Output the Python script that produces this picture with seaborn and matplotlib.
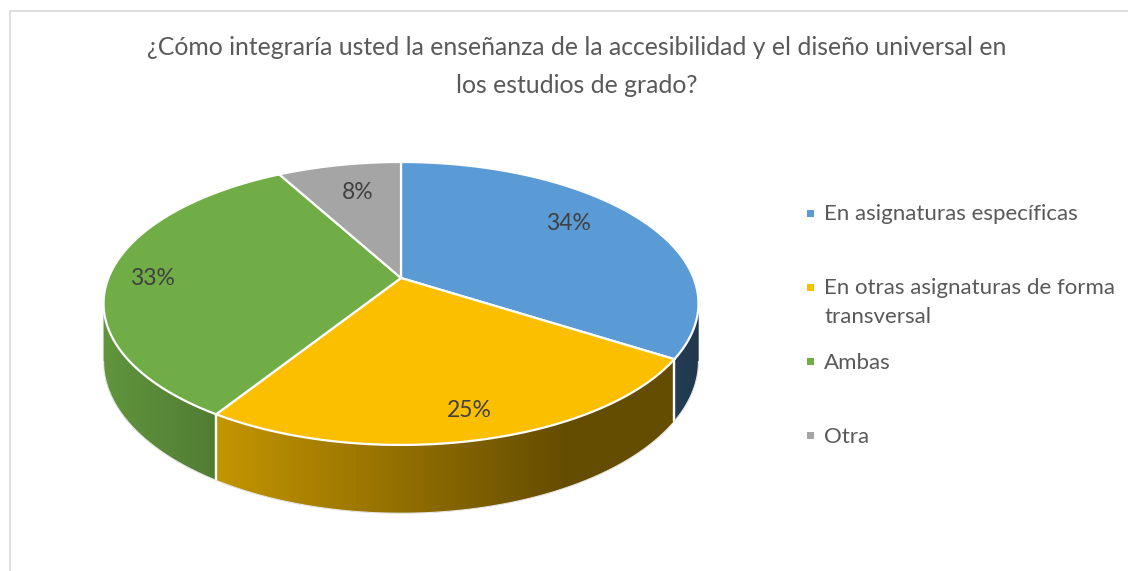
import numpy as np
import matplotlib
matplotlib.use("Agg")
from matplotlib import pyplot as plt
from matplotlib import transforms as mtransforms
from matplotlib.path import Path
from matplotlib.patches import Polygon, Rectangle
import seaborn as sns

sns.set_theme(style="white")
plt.rcParams['font.family'] = ['Lato', 'DejaVu Sans']

# data
categories = ["En asignaturas específicas",
              "En otras asignaturas de forma\ntransversal",
              "Ambas",
              "Otra"]
shares = [34, 25, 33, 8]
colors = ["#5b9bd5", "#fbbf00", "#70ad47", "#a5a5a5"]
title = ("¿Cómo integraría usted la enseñanza de la accesibilidad y el diseño universal en\n"
         "los estudios de grado?")

# layout (pixels of the 1128x571 canvas)
W, H = 1128, 571
cx, cy = 401, 278          # pie vertex
sx, sy, k = 292.6, 136.9, 0.18   # tilt / perspective
depth0 = 56
side_shade = [(0.40, 0.36), (0.78, 0.40), (0.86, 0.72), (0.6, 0.6)]
label_r = [0.75, 0.85, 0.85, 0.72]
label_turn = [6, 1, 2, -1]


class Tilt(mtransforms.Transform):
    """unit pie plane -> canvas pixels, seen from above in perspective"""
    input_dims = output_dims = 2

    def transform_non_affine(self, xy):
        xy = np.asarray(xy, dtype=float).reshape(-1, 2)
        q = 1 + k * xy[:, 1]
        return np.column_stack([cx + sx * xy[:, 0] / q, cy - sy * xy[:, 1] / q])

    def transform_path_non_affine(self, path):
        pts = []
        for seg, code in path.iter_bezier():
            if code == Path.MOVETO:
                pts.append(seg.control_points[:1])
            else:
                pts.append(seg(np.linspace(0, 1, 24))[1:])
        verts = np.concatenate(pts)
        verts = np.vstack([verts, verts[:1]])
        return Path(self.transform_non_affine(verts))


tilt = Tilt()

fig = plt.figure(figsize=(W / 100, H / 100), dpi=100)
ax = fig.add_axes([0, 0, 1, 1])

wedges, texts, autotexts = ax.pie(
    shares, colors=colors, startangle=90, counterclock=False, radius=1,
    autopct='%1.0f%%', pctdistance=0.8,
    wedgeprops=dict(edgecolor='white', linewidth=1.6, zorder=5),
    textprops=dict(fontsize=16.5, color='#404040'))
for w in wedges:
    w.set_transform(tilt + ax.transData)

# side wall (front part only, between the two silhouette points)
t_left, t_right = -180 + np.degrees(np.arcsin(k)), -np.degrees(np.arcsin(k))
for w, col, (f0, f1) in zip(wedges, colors, side_shade):
    base = np.array(matplotlib.colors.to_rgb(col))
    for off in (0, 360, -360):
        a = max(w.theta1 + off, t_left)
        b = min(w.theta2 + off, t_right)
        if b <= a:
            continue
        t = np.radians(np.linspace(a, b, 120))
        top = tilt.transform_non_affine(np.column_stack([np.cos(t), np.sin(t)]))
        dep = depth0 / (1 + k * np.sin(t))
        bot = top + np.column_stack([np.zeros_like(dep), dep])
        pts = np.vstack([top, bot[::-1]])
        x0, x1 = top[:, 0].min(), top[:, 0].max()
        u = np.clip(np.linspace(0, 1, 200) * (1.3 if f0 - f1 > 0.3 else 1.0), 0, 1)
        grad = (base[None, :] * (f0 + (f1 - f0) * u)[:, None])[None, :, :]
        poly = Polygon(pts, closed=True, facecolor=base * (f0 + f1) / 2,
                       edgecolor='none', transform=ax.transData, zorder=2)
        ax.add_patch(poly)
        im = ax.imshow(grad, extent=(x0, x1, pts[:, 1].max(), pts[:, 1].min()),
                       aspect='auto', interpolation='bilinear', zorder=2.5)
        im.set_clip_path(poly)
        for ang in (a, b):
            if t_left + 1 < ang < t_right - 1:
                p = tilt.transform_non_affine([[np.cos(np.radians(ang)), np.sin(np.radians(ang))]])[0]
                d = depth0 / (1 + k * np.sin(np.radians(ang)))
                ax.plot([p[0], p[0]], [p[1], p[1] + d], color='white', lw=1.6, zorder=3)

tb = np.radians(np.linspace(t_left, t_right, 200))
rim = tilt.transform_non_affine(np.column_stack([np.cos(tb), np.sin(tb)]))
rim[:, 1] += depth0 / (1 + k * np.sin(tb))
ax.plot(rim[:, 0], rim[:, 1], color='#e8e8e8', lw=0.8, zorder=3)

# percent labels
for w, txt, r, d in zip(wedges, autotexts, label_r, label_turn):
    mid = np.radians((w.theta1 + w.theta2) / 2 + d)
    txt.set_position(tilt.transform_non_affine([[r * np.cos(mid), r * np.sin(mid)]])[0])
    txt.set_zorder(6)

ax.set_aspect('auto')
ax.set_xlim(0, W)
ax.set_ylim(H, 0)
ax.axis('off')

# title
fig.text(577 / W, 1 - 93 / H, title, ha='center', va='baseline', fontsize=17.8,
         color='#595959', linespacing=1.8)

# legend
for i, (lab, col) in enumerate(zip(categories, colors)):
    yc = 213 + 74.3 * i
    nl = lab.count('\n')
    fig.add_artist(Rectangle((807 / W, 1 - (yc + 3.5) / H), 7 / W, 7 / H,
                             transform=fig.transFigure, facecolor=col, edgecolor='none'))
    fig.text(824 / W, 1 - (yc + 7 + 29 * nl) / H, lab, ha='left', va='baseline',
             fontsize=16, color='#595959', linespacing=1.61)

# chart frame
fig.add_artist(Rectangle((9.5 / W, -0.1), 1.2, 1 - 10.5 / H + 0.1,
                         transform=fig.transFigure, facecolor='none',
                         edgecolor='#d9d9d9', linewidth=1.2))

fig.savefig('out.png', dpi=100)
